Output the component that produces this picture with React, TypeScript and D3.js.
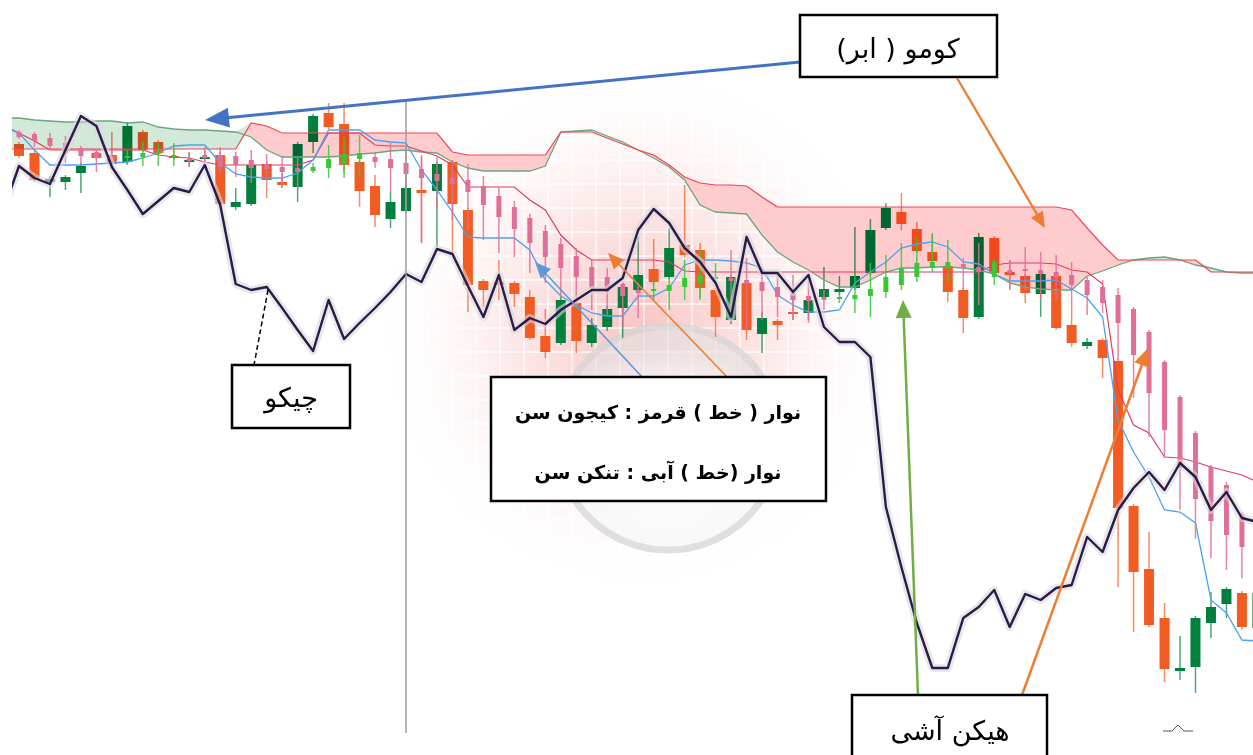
import React from "react";
import * as d3 from "d3";

const W = 1253;
const H = 755;

// regular candles, [open, high, low, close]
const candles: number[][] = [
  [616, 618, 602, 604], [607, 610, 578, 580], [578, 584, 563, 581], [578, 585, 570, 583],
  [587, 597, 567, 594], [607, 608, 600, 602], [605, 628, 594, 596], [598, 638, 596, 634],
  [628, 630, 608, 610], [618, 620, 605, 607], [604, 610, 600, 602], [598, 608, 593, 600],
  [601, 610, 597, 603], [605, 608, 554, 556], [553, 572, 550, 558], [556, 597, 554, 595],
  [596, 598, 562, 580], [578, 587, 572, 575], [573, 618, 558, 616], [618, 646, 607, 644],
  [647, 657, 631, 633], [636, 657, 588, 595], [598, 600, 553, 569], [574, 585, 533, 545],
  [541, 568, 532, 558], [549, 583, 547, 572], [570, 605, 517, 567], [569, 598, 513, 596],
  [598, 600, 507, 556], [550, 552, 448, 475], [479, 481, 453, 470], [478, 500, 460, 475],
  [477, 479, 453, 466], [463, 470, 420, 422], [424, 451, 402, 408], [417, 463, 415, 460],
  [457, 459, 407, 419], [417, 442, 413, 435], [433, 454, 429, 451], [452, 477, 422, 473],
  [470, 523, 468, 485], [491, 521, 476, 478], [483, 532, 481, 512], [515, 575, 503, 505],
  [510, 517, 462, 472], [470, 472, 423, 443], [440, 485, 436, 483], [477, 479, 420, 430],
  [426, 448, 407, 442], [439, 441, 420, 435], [448, 460, 440, 446], [447, 462, 440, 460],
  [463, 493, 460, 471], [468, 484, 465, 471], [472, 533, 470, 484], [487, 541, 485, 530],
  [532, 557, 530, 552], [548, 567, 530, 536], [531, 538, 507, 509], [508, 525, 497, 499],
  [494, 496, 458, 468], [470, 472, 427, 442], [443, 527, 441, 523], [522, 524, 485, 487],
  [488, 500, 470, 485], [484, 486, 457, 467], [466, 488, 443, 486], [484, 486, 430, 432],
  [435, 452, 413, 417], [414, 422, 411, 418], [420, 422, 382, 402], [399, 401, 173, 252],
  [254, 256, 128, 188], [191, 228, 133, 135], [142, 157, 78, 91], [89, 124, 80, 92],
  [93, 144, 67, 142], [137, 168, 122, 153], [156, 173, 142, 171], [167, 169, 130, 133],
  [132, 175, 125, 167],
];

// heikin ashi candles, [open, high, low, close]
const heikin: number[][] = [
  [628, 630, 621, 623], [626, 628, 613, 619], [622, 627, 610, 614], [617, 624, 597, 607],
  [612, 614, 594, 604], [608, 611, 588, 602], [604, 610, 595, 598], [602, 610, 595, 604],
  [603, 618, 594, 607], [606, 617, 594, 608], [603, 617, 594, 605], [601, 608, 593, 599],
  [605, 613, 597, 602], [605, 613, 587, 593], [604, 608, 583, 595], [600, 610, 577, 592],
  [596, 606, 583, 591], [593, 603, 572, 588], [592, 602, 570, 588], [589, 597, 587, 593],
  [592, 615, 582, 601], [596, 622, 582, 606], [601, 625, 583, 607], [603, 608, 592, 598],
  [601, 617, 568, 592], [597, 617, 550, 586], [591, 603, 517, 582], [586, 603, 550, 579],
  [582, 598, 540, 576], [580, 596, 530, 568], [574, 584, 520, 555], [564, 573, 507, 543],
  [553, 559, 503, 531], [542, 546, 487, 517], [529, 535, 477, 503], [516, 522, 463, 492],
  [504, 512, 460, 483], [493, 500, 450, 472], [483, 492, 445, 468], [476, 478, 435, 464],
  [470, 477, 442, 467], [469, 480, 460, 471], [469, 483, 450, 475], [473, 500, 460, 482],
  [477, 510, 460, 484], [481, 497, 478, 483], [482, 510, 440, 479], [480, 502, 430, 476],
  [478, 490, 440, 469], [473, 485, 443, 463], [467, 485, 440, 460], [464, 485, 437, 459],
  [463, 470, 450, 460], [461, 467, 457, 463], [461, 487, 447, 465], [464, 497, 443, 471],
  [468, 505, 462, 483], [475, 517, 470, 492], [483, 522, 478, 497], [492, 527, 488, 498],
  [492, 520, 477, 498], [496, 502, 470, 492], [493, 517, 455, 488], [483, 500, 475, 498],
  [490, 500, 470, 487], [491, 513, 470, 489], [490, 508, 460, 486], [488, 505, 460, 482],
  [485, 498, 452, 475], [480, 483, 445, 465], [473, 480, 447, 457], [465, 472, 400, 437],
  [451, 453, 362, 405], [428, 430, 323, 367], [398, 400, 302, 330], [363, 365, 250, 292],
  [327, 329, 221, 261], [293, 295, 202, 239], [275, 278, 190, 225], [246, 248, 182, 213],
  [220, 222, 180, 195],
];

// line series start one bar before the first candle
const lineStart = -1;
const senkouA = [
  642, 642, 640, 639, 638, 638, 639, 639, 637, 638, 633, 631, 630, 630, 629, 628, 623, 610,
  603, 603, 603, 603, 604, 606, 607, 609, 610, 608, 607, 598, 592, 589, 589, 589, 589, 594,
  628, 629, 630, 624, 618, 610, 602, 593, 580, 555, 548, 547, 546, 525, 508, 498, 490, 480,
  473, 473, 480, 488, 492, 492, 493, 493, 492, 490, 486, 477, 473, 471, 470, 470, 484, 489,
  495, 500, 502, 503, 500, 495, 492, 488, 487, 487,
];
const senkouB = [
  611, 611, 611, 611, 611, 611, 611, 611, 611, 611, 611, 611, 611, 611, 611, 611, 637, 634,
  627, 627, 627, 627, 627, 627, 627, 627, 627, 627, 627, 608, 605, 605, 605, 605, 605, 605,
  628, 628, 628, 622, 616, 610, 605, 595, 583, 577, 575, 575, 574, 563, 553, 553, 553, 553,
  553, 553, 553, 553, 553, 553, 553, 553, 553, 553, 553, 553, 553, 553, 553, 550, 532, 515,
  500, 500, 500, 500, 500, 500, 488, 488, 488, 488,
];
const tenkan = [
  635, 627, 610, 595, 595, 595, 596, 597, 598, 602, 607, 614, 615, 615, 597, 586, 583, 582,
  582, 587, 600, 630, 630, 630, 620, 618, 617, 590, 570, 548, 523, 522, 522, 522, 510, 480,
  464, 455, 447, 444, 444, 464, 464, 472, 495, 500, 500, 499, 497, 492, 465, 455, 448, 448,
  450, 477, 488, 498, 512, 516, 518, 513, 498, 496, 486, 479, 479, 479, 480, 471, 462, 443,
  340, 308, 283, 250, 248, 237, 160, 147, 120, 119,
];
const kijun = [
  633, 627, 619, 610, 610, 610, 610, 610, 610, 610, 605, 603, 602, 598, 595, 595, 595, 595,
  595, 595, 600, 627, 627, 627, 615, 614, 614, 609, 604, 595, 573, 573, 573, 573, 560, 550,
  525, 510, 500, 500, 500, 500, 500, 498, 489, 488, 488, 488, 488, 488, 488, 488, 488, 488,
  488, 488, 488, 488, 488, 488, 488, 488, 488, 488, 495, 497, 497, 497, 496, 490, 488, 476,
  370, 335, 327, 303, 302, 298, 293, 289, 285, 278,
];
const chikou = [
  550, 594, 582, 576, 610, 644, 634, 593, 570, 546, 559, 572, 568, 595, 555, 476, 470, 473,
  452, 430, 409, 460, 421, 437, 452, 468, 486, 478, 511, 506, 474, 443, 485, 430, 442, 436,
  450, 460, 470, 470, 482, 530, 551, 537, 512, 498, 477, 443, 523, 487, 487, 468, 485, 433,
  418, 418, 403, 253, 193, 137, 92, 92, 142, 153, 170, 133, 166, 160, 172, 175, 223, 208,
  250, 272, 288, 270, 297, 283, 250, 268, 242, 238,
];

const UP = "#00803c";
const DOWN = "#f25c22";
const HA_UP = "#36c936";
const HA_DOWN = "#e06f97";

const x = d3.scaleLinear().domain([0, 80]).range([19, 1257.4]);
const y = d3.scaleLinear().domain([0, 760]).range([760, 0]);
const xi = (i: number) => x(i + lineStart);

const line = d3
  .line<number>()
  .x((_, i) => xi(i))
  .y((d) => y(d));

const redCloud = d3
  .area<number>()
  .x((_, i) => xi(i))
  .y0((d) => y(d))
  .y1((d, i) => y(Math.max(d, senkouB[i])));

const greenCloud = d3
  .area<number>()
  .x((_, i) => xi(i))
  .y0((d) => y(d))
  .y1((d, i) => y(Math.max(d, senkouA[i])));

const Candle = ({ d, i, w, up, down, wickOp }: any) => {
  const [o, h, l, c] = d;
  const col = c >= o ? up : down;
  const cx = x(i);
  const top = y(Math.max(o, c));
  const bh = Math.max(2, y(Math.min(o, c)) - top);
  return (
    <g>
      <line x1={cx} x2={cx} y1={y(h)} y2={y(l)} stroke={col} strokeWidth={1.5} opacity={wickOp} />
      <rect x={cx - w / 2} y={top} width={w} height={bh} fill={col} />
    </g>
  );
};

const Arrow = ({ x1, y1, x2, y2, color, width, head, hw }: any) => {
  const a = Math.atan2(y2 - y1, x2 - x1);
  const bx = x2 - head * Math.cos(a);
  const by = y2 - head * Math.sin(a);
  const px = -Math.sin(a) * hw;
  const py = Math.cos(a) * hw;
  return (
    <g>
      <line x1={x1} y1={y1} x2={bx + Math.cos(a) * 2} y2={by + Math.sin(a) * 2} stroke={color} strokeWidth={width} />
      <polygon points={`${x2},${y2} ${bx + px},${by + py} ${bx - px},${by - py}`} fill={color} />
    </g>
  );
};

const gridX = d3.range(380, 880, 24);
const gridY = d3.range(160, 580, 24);

const fontFa = "'DejaVu Sans', 'Noto Sans', sans-serif";

export default function App() {
  return (
    <svg
      width={W}
      height={H}
      style={{ position: "absolute", left: 0, top: 0, background: "#fff" }}
    >
      <defs>
        <radialGradient id="haze" cx="640" cy="330" r="270" gradientUnits="userSpaceOnUse">
          <stop offset="0%" stopColor="#f27878" stopOpacity={0.45} />
          <stop offset="45%" stopColor="#f5a0a0" stopOpacity={0.27} />
          <stop offset="100%" stopColor="#ffffff" stopOpacity={0} />
        </radialGradient>
        <radialGradient id="sphere" cx="668" cy="470" r="125" gradientUnits="userSpaceOnUse">
          <stop offset="0%" stopColor="#ffffff" stopOpacity={0.95} />
          <stop offset="80%" stopColor="#f4f4f4" stopOpacity={0.9} />
          <stop offset="100%" stopColor="#e4e4e4" stopOpacity={0.9} />
        </radialGradient>
        <clipPath id="hazeClip">
          <circle cx={640} cy={330} r={270} />
        </clipPath>
        <clipPath id="plot">
          <rect x={12} y={0} width={W - 12} height={H} />
        </clipPath>
      </defs>

      {/* watermark */}
      <circle cx={640} cy={330} r={270} fill="url(#haze)" />
      <g clipPath="url(#hazeClip)" stroke="#fff" strokeWidth={1.3} opacity={0.85}>
        {gridX.map((g) => (
          <line key={"gx" + g} x1={g} x2={g} y1={60} y2={600} />
        ))}
        {gridY.map((g) => (
          <line key={"gy" + g} x1={370} x2={910} y1={g} y2={g} />
        ))}
      </g>
      <circle cx={668} cy={438} r={112} fill="url(#sphere)" stroke="#d6d6d6" strokeWidth={7} opacity={0.75} />

      <g clipPath="url(#plot)">
        {candles.map((d, i) => (
          <Candle key={"c" + i} d={d} i={i} w={10} up={UP} down={DOWN} wickOp={0.7} />
        ))}

        <g style={{ mixBlendMode: "multiply" }}>
          <path d={redCloud(senkouA) || ""} fill="#ffcccd" />
          <path d={greenCloud(senkouB) || ""} fill="#d2e8d9" />
        </g>
        <path d={line(senkouA) || ""} fill="none" stroke="#6aa67e" strokeWidth={1.3} />
        <path d={line(senkouB) || ""} fill="none" stroke="#f04452" strokeWidth={1.2} />

        <path d={line(kijun) || ""} fill="none" stroke="#e33b5e" strokeWidth={1.2} />
        <path d={line(tenkan) || ""} fill="none" stroke="#4aa2f2" strokeWidth={1.3} />

        {heikin.map((d, i) => (
          <Candle key={"h" + i} d={d} i={i} w={5} up={HA_UP} down={HA_DOWN} wickOp={0.85} />
        ))}

        <path
          d={line(chikou) || ""}
          fill="none"
          stroke="#d8d8d8"
          strokeWidth={8}
          strokeLinejoin="round"
          opacity={0.6}
        />
        <path d={line(chikou) || ""} fill="none" stroke="#2c1a4a" strokeWidth={2.4} strokeLinejoin="round" />
      </g>

      <line x1={406} x2={406} y1={100} y2={733} stroke="#9c9c9c" strokeWidth={1.5} />

      {/* annotations */}
      <Arrow x1={800} y1={62} x2={205} y2={120} color="#4472c4" width={3} head={24} hw={10} />
      <Arrow x1={957} y1={78} x2={1045} y2={228} color="#ed7d31" width={2.2} head={16} hw={7} />
      <Arrow x1={643} y1={378} x2={535} y2={262} color="#5b9bd5" width={1.6} head={16} hw={7} />
      <Arrow x1={728} y1={378} x2={608} y2={253} color="#ed7d31" width={1.6} head={16} hw={7} />
      <Arrow x1={918} y1={695} x2={903} y2={300} color="#70ad47" width={2.5} head={18} hw={8} />
      <Arrow x1={1022} y1={695} x2={1148} y2={348} color="#ed7d31" width={2.5} head={18} hw={8} />
      <line x1={268} y1={290} x2={254} y2={365} stroke="#000" strokeWidth={1.5} strokeDasharray="5,3" />

      <rect x={800} y={15} width={197} height={62} fill="#fff" stroke="#000" strokeWidth={2.5} />
      <text x={898} y={58} fontFamily={fontFa} fontSize={27} textAnchor="middle" direction="rtl">
        کومو ( ابر)
      </text>

      <rect x={232} y={365} width={118} height={63} fill="#fff" stroke="#000" strokeWidth={2.5} />
      <text x={291} y={407} fontFamily={fontFa} fontSize={27} textAnchor="middle" direction="rtl">
        چیکو
      </text>

      <rect x={491} y={377} width={335} height={124} fill="#fff" stroke="#000" strokeWidth={2.5} />
      <text x={658} y={419} fontFamily={fontFa} fontSize={19} fontWeight="bold" textAnchor="middle" direction="rtl">
        نوار ( خط ) قرمز : کیجون سن
      </text>
      <text x={658} y={479} fontFamily={fontFa} fontSize={19} fontWeight="bold" textAnchor="middle" direction="rtl">
        نوار (خط ) آبی : تنکن سن
      </text>

      <rect x={852} y={695} width={195} height={75} fill="#fff" stroke="#000" strokeWidth={2.5} />
      <text x={950} y={740} fontFamily={fontFa} fontSize={27} textAnchor="middle" direction="rtl">
        هیکن آشی
      </text>

      <path d="M1163,731 L1172,731 L1178,725 L1184,731 L1193,731" fill="none" stroke="#555" strokeWidth={1} />
    </svg>
  );
}
